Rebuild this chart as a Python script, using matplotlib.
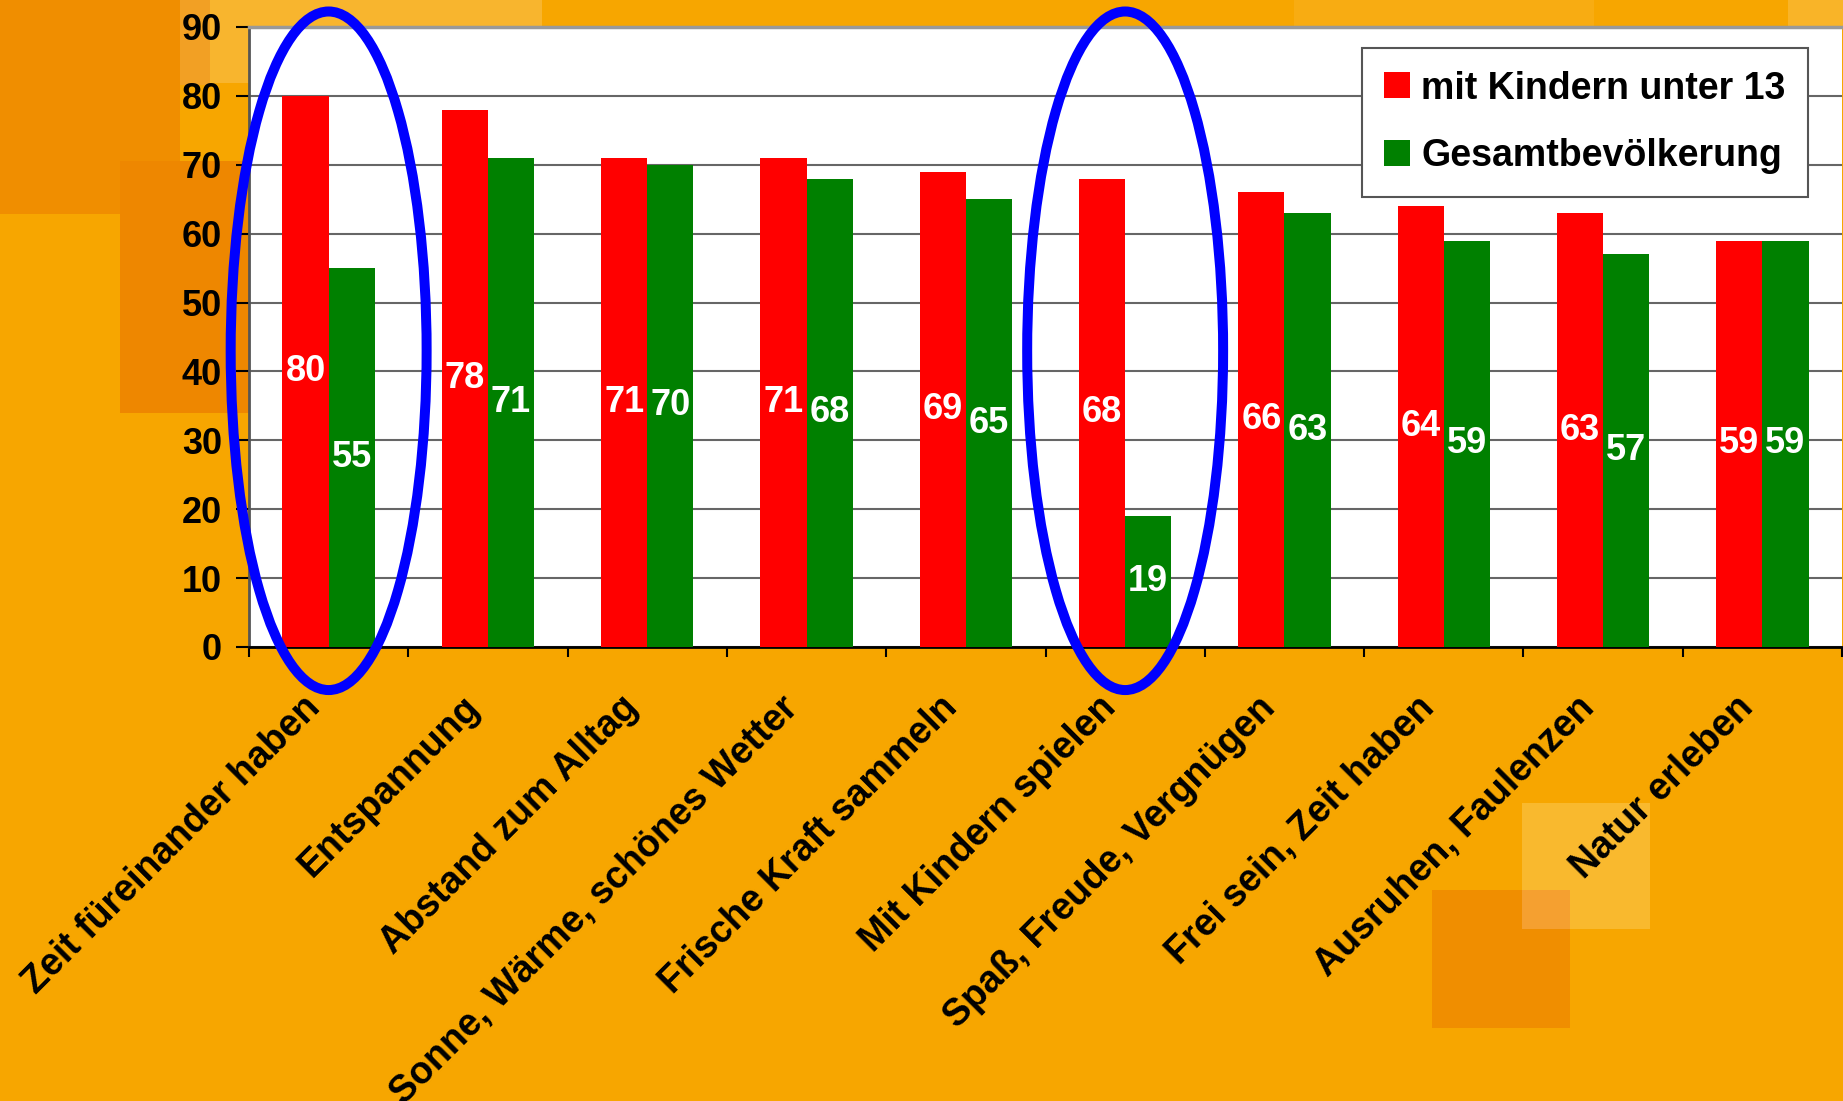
import matplotlib
matplotlib.use("Agg")
import matplotlib.pyplot as plt
from matplotlib.patches import Rectangle, Ellipse
import matplotlib.transforms as mtransforms
import numpy as np

plt.rcParams['font.family'] = ['Liberation Sans', 'DejaVu Sans']
plt.rcParams['font.weight'] = 'bold'

categories = ["Zeit füreinander haben", "Entspannung", "Abstand zum Alltag",
              "Sonne, Wärme, schönes Wetter", "Frische Kraft sammeln",
              "Mit Kindern spielen", "Spaß, Freude, Vergnügen",
              "Frei sein, Zeit haben", "Ausruhen, Faulenzen", "Natur erleben"]
mit_kindern = [80, 78, 71, 71, 69, 68, 66, 64, 63, 59]
gesamt = [55, 71, 70, 68, 65, 19, 63, 59, 57, 59]
series_names = ["mit Kindern unter 13", "Gesamtbevölkerung"]
yticks = [0, 10, 20, 30, 40, 50, 60, 70, 80, 90]
highlight = [0, 5]

W, H = 1843, 1101
fig = plt.figure(figsize=(W / 100, H / 100), dpi=100)
bg = '#F7A600'
fig.patch.set_facecolor(bg)

def frect(x, y, w, h, color):
    fig.patches.append(Rectangle((x / W, 1 - (y + h) / H), w / W, h / H,
                                 transform=fig.transFigure, facecolor=color,
                                 edgecolor='none', zorder=0))

# decorative background squares
frect(0, 0, 180, 214, '#F08E00')
frect(180, 0, 30, 85, '#F2A024')
frect(210, 0, 40, 83, '#F8B52E')
frect(212, 0, 330, 26, '#F8B52E')
frect(120, 161, 130, 252, '#EE8700')
frect(1294, 0, 300, 26, '#F8AC12')
frect(1788, 0, 55, 26, '#F9B428')
frect(1432, 890, 138, 138, '#F08E00')
frect(1522, 803, 128, 126, '#F9B92E')
frect(1522, 890, 48, 39, '#F5A030')

ax = fig.add_axes([249 / W, 1 - 647 / H, 1593 / W, 620 / H])
ax.set_zorder(1)
ax.set_facecolor('white')

x = np.arange(len(categories))
bw = 0.29
ax.bar(x - bw / 2, mit_kindern, bw, color='#FF0000', label=series_names[0], zorder=3)
ax.bar(x + bw / 2, gesamt, bw, color='#008000', label=series_names[1], zorder=3)

for xi, v in zip(x, mit_kindern):
    ax.text(xi - bw / 2, v / 2, f"{v}", color='white', fontsize=26,
            fontweight='bold', ha='center', va='center', zorder=4)
for xi, v in zip(x, gesamt):
    ax.text(xi + bw / 2, v / 2, f"{v}", color='white', fontsize=26,
            fontweight='bold', ha='center', va='center', zorder=4)

ax.set_xlim(-0.5, len(categories) - 0.5)
ax.set_ylim(0, 90)
ax.set_yticks(yticks)
ax.set_yticklabels([str(t) for t in yticks], fontsize=26, fontweight='bold')
ax.yaxis.grid(True, color='#666666', linewidth=1.5, zorder=1)
ax.set_axisbelow(True)
ax.tick_params(axis='y', length=9.5, width=1.5, pad=10, color='black')

ax.set_xticks(np.arange(-0.5, len(categories)), labels=[])
ax.tick_params(axis='x', which='major', length=7, width=1.5, color='black')
ax.set_xticks(x, minor=True)
ax.set_xticklabels(categories, minor=True, rotation=45, ha='right', va='top',
                   rotation_mode='anchor', fontsize=27, fontweight='bold')
ax.tick_params(axis='x', which='minor', length=0, pad=32)
shift = mtransforms.ScaledTranslation(-0.27, 0.02, fig.dpi_scale_trans)
for lab in ax.get_xticklabels(minor=True):
    lab.set_transform(lab.get_transform() + shift)

ax.spines['right'].set_visible(False)
ax.spines['top'].set_color('#999999')
ax.spines['top'].set_linewidth(2.5)
ax.spines['left'].set_color('#555555')
ax.spines['left'].set_linewidth(2)
ax.spines['bottom'].set_color('black')
ax.spines['bottom'].set_linewidth(2)

for i in highlight:
    ax.add_patch(Ellipse((i, 43), 1.23, 98.5, fill=False, edgecolor='#0000FF',
                         linewidth=7.2, clip_on=False, zorder=6))

leg = ax.legend(loc='upper right', bbox_to_anchor=(0.9787, 0.966), borderaxespad=0,
                prop={'size': 27, 'weight': 'bold'}, handlelength=0.69,
                handleheight=0.69, handletextpad=0.3, labelspacing=0.85,
                borderpad=0.6, fancybox=False, framealpha=1)
leg.get_frame().set_edgecolor('#555555')
leg.get_frame().set_linewidth(1.5)
leg.set_zorder(7)

fig.savefig('out.png', dpi=100, facecolor=fig.get_facecolor())
